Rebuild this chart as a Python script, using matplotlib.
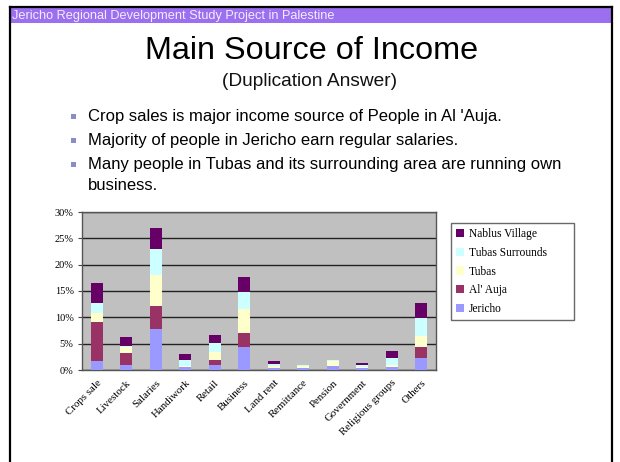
import matplotlib
matplotlib.use("Agg")
import matplotlib.pyplot as plt
from matplotlib.patches import Rectangle
from matplotlib.lines import Line2D
import numpy as np

categories = ["Crops sale", "Livestock", "Salaries", "Handiwork", "Retail", "Business",
              "Land rent", "Remittance", "Pension", "Government", "Religious groups", "Others"]
legend_labels = ["Jericho", "Al' Auja", "Tubas", "Tubas Surrounds", "Nablus Village"]
jericho   = [1.8, 1.0, 7.7, 0.6, 1.0, 4.3, 0.4, 0.3, 0.7, 0.3, 0.5, 2.2]
al_auja   = [7.4, 2.3, 4.5, 0.0, 0.9, 2.8, 0.0, 0.0, 0.0, 0.0, 0.1, 2.2]
tubas     = [1.6, 1.0, 5.8, 0.2, 1.6, 4.4, 0.3, 0.4, 1.0, 0.2, 0.3, 2.1]
tubas_sur = [1.9, 0.2, 4.9, 1.1, 1.6, 3.4, 0.4, 0.3, 0.2, 0.4, 1.3, 3.3]
nablus    = [3.9, 1.8, 4.0, 1.1, 1.5, 2.7, 0.7, 0.0, 0.0, 0.5, 1.4, 3.0]
yticks = [0, 5, 10, 15, 20, 25, 30]
ytick_labels = ["0%", "5%", "10%", "15%", "20%", "25%", "30%"]

colors = ["#9999FF", "#993366", "#FFFFCC", "#CCFFFF", "#660066"]
W, H = 620, 462

fig = plt.figure(figsize=(W / 100, H / 100), dpi=100)
fig.patch.set_facecolor("white")

def fx(px):
    return px / W

def fy(py):
    return 1 - py / H

# slide frame and header
fig.add_artist(Rectangle((fx(11), fy(23)), fx(600), 15 / H, transform=fig.transFigure,
                         facecolor="#9C6EF0", edgecolor="none"))
for xs, ys in [([10, 10], [7, 462]), ([612, 612], [7, 462]), ([10, 612], [7, 7])]:
    fig.add_artist(Line2D([fx(v) for v in xs], [fy(v) for v in ys], transform=fig.transFigure,
                          color="black", lw=1.6))
fig.text(fx(12), fy(15.5), "Jericho Regional Development Study Project in Palestine",
         fontsize=9.2, color="#F2EEFF", family="Liberation Sans", va="center", ha="left")

fig.text(fx(312), fy(51), "Main Source of Income", fontsize=23.3, family="Liberation Sans",
         ha="center", va="center", color="black")
fig.text(fx(310), fy(81), "(Duplication Answer)", fontsize=13.8, family="Liberation Sans",
         ha="center", va="center", color="#111111")

bullets = [(117, "Crop sales is major income source of People in Al 'Auja.", True),
           (140, "Majority of people in Jericho earn regular salaries.", True),
           (164, "Many people in Tubas and its surrounding area are running own", True),
           (186, "business.", False)]
for yb, txt, mark in bullets:
    if mark:
        fig.add_artist(Rectangle((fx(71), fy(yb + 2.5)), 5 / W, 5 / H, transform=fig.transFigure,
                                 facecolor="#8C8CC8", edgecolor="none"))
    fig.text(fx(88), fy(yb), txt, fontsize=12, family="Liberation Sans", ha="left",
             va="center", color="black")

# chart
ax = fig.add_axes([fx(82), fy(370), fx(436) - fx(82), (370 - 212) / H])
ax.set_facecolor("#C0C0C0")
x = np.arange(len(categories))
bottom = np.zeros(len(categories))
data = [jericho, al_auja, tubas, tubas_sur, nablus]
bars = []
for vals, col, lab in zip(data, colors, legend_labels):
    b = ax.bar(x, vals, width=0.42, bottom=bottom, color=col, label=lab, zorder=3)
    bars.append(b)
    bottom = bottom + np.array(vals)

ax.set_ylim(0, 30)
ax.set_xlim(-0.5, len(categories) - 0.5)
ax.set_yticks(yticks)
ax.set_yticklabels(ytick_labels, family="Liberation Serif", fontsize=7.5)
ax.yaxis.grid(True, color="#222222", lw=1.0, zorder=1)
ax.set_axisbelow(True)
ax.set_xticks(x)
ax.set_xticklabels(categories, rotation=45, ha="right", rotation_mode="anchor",
                   family="Liberation Serif", fontsize=7.8)
ax.tick_params(axis="x", length=0, pad=6)
ax.tick_params(axis="y", length=3, pad=3, color="#444444")
for s in ax.spines.values():
    s.set_color("#555555")
    s.set_linewidth(1.0)

handles = [bars[i] for i in range(4, -1, -1)]
labels = [legend_labels[i] for i in range(4, -1, -1)]
leg = fig.legend(handles, labels, loc="upper left",
                 bbox_to_anchor=(fx(451), fy(316), fx(574) - fx(451), (316 - 223) / H),
                 mode="expand", frameon=True, fancybox=False, borderaxespad=0,
                 prop={"family": "Liberation Serif", "size": 8.3},
                 handlelength=0.7, handleheight=0.7, handletextpad=0.4,
                 labelspacing=0.58, borderpad=0.45)
leg.get_frame().set_edgecolor("#444444")
leg.get_frame().set_linewidth(1.0)
leg._legend_box.align = "left"

fig.savefig("out.png", dpi=100)
